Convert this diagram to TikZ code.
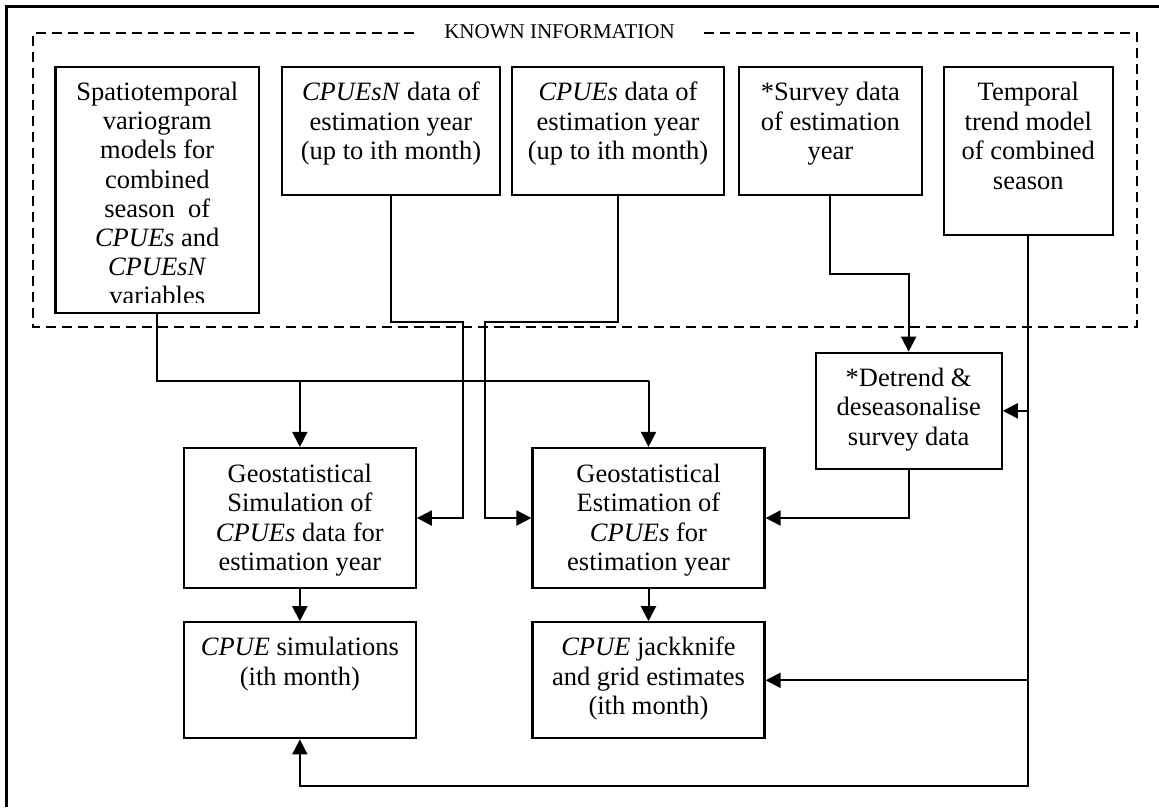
\documentclass[tikz,border=0pt]{standalone}
\usepackage{fontspec}
\setmainfont{Liberation Serif}
\usetikzlibrary{arrows.meta}
\tikzset{
  boxst/.style={draw, line width=2.2pt, inner sep=0pt, fill=none},
  txtst/.style={inner sep=0pt, align=center, font=\fontsize{26.5}{29.5}\selectfont},
  conn/.style={line width=2pt},
  arr/.style={line width=2pt, -{Triangle[length=15pt,width=15pt]}},
  frame/.style={line width=3pt},
  dashst/.style={line width=2pt, dash pattern=on 10pt off 6pt}
}
\newcommand{\mybox}[7]{%
  \node[boxst, minimum width=#4pt, minimum height=#5pt] (#1) at (#2,#3) {};
  \node[txtst, anchor=north] (#1t) at ([yshift=-#6pt]#1.north) {\strut #7};}
\begin{document}
\begin{tikzpicture}[x=1pt,y=-1pt]
\useasboundingbox (0,0) rectangle (1159,807);
% outer frame (partly visible)
\draw[frame] (6.7,807) -- (6.7,6.7) -- (1159,6.7);
% known information dashed region
\coordinate (dA) at (414,33.3);
\coordinate (dB) at (704,33.3);
\draw[dashst] (dA) -- (32.6,33.3) -- (32.6,326.7) -- (1137,326.7) -- (1137,33.3) -- (dB);
\node[inner sep=0pt, font=\fontsize{21}{24}\selectfont] (title) at (559.5,31.5) {KNOWN INFORMATION};
% top row boxes
\node[boxst, minimum width=203.5pt, minimum height=246.6pt] (b1) at (157.25,190) {};
\begin{scope}
\clip (55.5,60) rectangle (259,302);
\node[inner sep=0pt, align=center, font=\fontsize{26.5}{29.1}\selectfont, anchor=north] (b1t) at ([yshift=-14.6pt]b1.north)
 {\strut Spatiotemporal\\variogram\\models for\\combined\\season\ \ of\\\textit{CPUEs} and\\\textit{CPUEsN}\\variables};
\end{scope}
\mybox{b2}{391}{130.85}{218}{128.3}{14.3}{\textit{CPUEsN} data of\\estimation year\\(up to ith month)}
\mybox{b3}{618}{130.85}{212}{128.3}{14.3}{\textit{CPUEs} data of\\estimation year\\(up to ith month)}
\mybox{b4}{830.4}{130.85}{183.2}{128.3}{14.3}{*Survey data\\of estimation\\year}
\mybox{b5}{1028.3}{150.85}{169.2}{168.3}{14.3}{Temporal\\trend model\\of combined\\season}
% middle/bottom boxes
\mybox{det}{908.65}{410.85}{186.1}{116.3}{13.6}{*Detrend \&\\deseasonalise\\survey data}
\mybox{sim}{299.85}{518}{231.9}{140}{14.3}{Geostatistical\\Simulation of\\\textit{CPUEs} data for\\estimation year}
\mybox{est}{648.5}{518}{232}{140}{14.3}{Geostatistical\\Estimation of\\\textit{CPUEs} for\\estimation year}
\mybox{csim}{299.85}{680.3}{231.9}{116}{13.9}{\textit{CPUE} simulations\\(ith month)}
\mybox{jack}{648.5}{680.3}{232}{116}{13.9}{\textit{CPUE} jackknife\\and grid estimates\\(ith month)}
% connectors
\draw[conn] (b1.south) -- (157.25,380.7) -- (648.5,380.7);
\draw[arr] (648.5,380.7) -- (est.north);
\draw[arr] (299.85,380.7) -- (sim.north);
\draw[arr] (b2.south) -- (391,321.7) -- (463,321.7) -- (463,518) -- (sim.east);
\draw[arr] (b3.south) -- (618,321.7) -- (484.6,321.7) -- (484.6,518) -- (est.west);
\draw[arr] (b4.south) -- (830.4,274) -- (908.65,274) -- (det.north);
\draw[arr] (det.south) -- (908.65,518) -- (est.east);
\draw[arr] (b5.south) -- (1028.3,786) -- (299.85,786) -- (csim.south);
\draw[arr] (1028.3,410.85) -- (det.east);
\draw[arr] (1028.3,680.3) -- (jack.east);
\draw[arr] (sim.south) -- (csim.north);
\draw[arr] (est.south) -- (jack.north);
\end{tikzpicture}
\end{document}
